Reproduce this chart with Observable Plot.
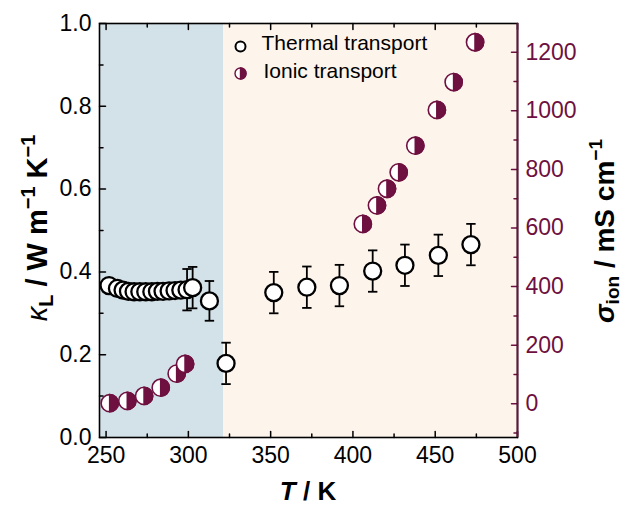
<!DOCTYPE html>
<html><head><meta charset="utf-8">
<script src="https://cdn.jsdelivr.net/npm/d3@7"></script>
<script src="https://cdn.jsdelivr.net/npm/@observablehq/plot@0.6"></script>
<style>
body{margin:0;background:#fff}
#chart{width:627px;height:508px}
svg{font-family:"Liberation Sans",Arial,sans-serif}
</style>
</head><body><div id="chart"></div>
<script>
// ---- data ----
const thermalT   = [251.8, 256.9, 260.3, 263.6, 267.0, 270.5, 274.1, 277.8, 281.2, 284.6, 288.3, 291.9, 295.4, 299.2, 302.6, 312.8, 322.9, 351.9, 372.0, 391.8, 412.0, 431.6, 451.9, 471.7];
const thermalK   = [0.367, 0.360, 0.356, 0.353, 0.352, 0.352, 0.352, 0.352, 0.353, 0.353, 0.354, 0.355, 0.356, 0.357, 0.362, 0.330, 0.179, 0.350, 0.363, 0.367, 0.402, 0.416, 0.440, 0.466];
const thermalErr = [0, 0, 0, 0, 0, 0, 0, 0, 0, 0, 0, 0, 0, 0.05, 0.05, 0.048, 0.05, 0.05, 0.05, 0.05, 0.05, 0.05, 0.05, 0.05];
const ionicT     = [252.2, 262.9, 273.1, 283.2, 292.9, 298.0, 406.0, 414.6, 420.7, 427.8, 437.9, 451.0, 461.2, 474.2];
const ionicSigma = [2, 10, 27, 55, 103, 136, 614, 677, 734, 790, 881, 1003, 1098, 1234];
const phaseBoundary = 321.5;
const xDomain = [246, 500];
const yDomain = [0, 1];
const sigmaDomain = [-115, 1298];
const xTicks = [250, 300, 350, 400, 450, 500];
const xMinor = [275, 325, 375, 425, 475];
const yTicks = [0, 0.2, 0.4, 0.6, 0.8, 1.0];
const yMinor = [0.1, 0.3, 0.5, 0.7, 0.9];
const sigmaTicks = [0, 200, 400, 600, 800, 1000, 1200];
const sigmaMinor = [-100, 100, 300, 500, 700, 900, 1100];
const legendLabels = ["Thermal transport", "Ionic transport"];

// ---- style ----
const maroon = "#6e1040";
const blueBg = "#d3e1e8";
const peachBg = "#fdf4ec";

const toLeft = v => (v - sigmaDomain[0]) / (sigmaDomain[1] - sigmaDomain[0]);
const fromLeft = u => sigmaDomain[0] + u * (sigmaDomain[1] - sigmaDomain[0]);

const thermal = thermalT.map((T, i) => ({T, k: thermalK[i], err: thermalErr[i]}));
const thermalErrData = thermal.filter(d => d.err > 0);
const ionic = ionicT.map((T, i) => ({T, s: toLeft(ionicSigma[i])}));
const regions = [
  {x1: xDomain[0], x2: phaseBoundary, fill: blueBg},
  {x1: phaseBoundary, x2: xDomain[1], fill: peachBg}
];

const halfRight = {draw(ctx, size) { const r = Math.sqrt(size / Math.PI); ctx.moveTo(0, -r); ctx.arc(0, 0, r, -Math.PI / 2, Math.PI / 2); ctx.closePath(); }};
const cap = {draw(ctx, size) { const w = Math.sqrt(size / Math.PI); ctx.moveTo(-w, 0); ctx.lineTo(w, 0); }};
const tickShape = {draw(ctx, l) { ctx.moveTo(0, 0); ctx.lineTo(0, -l); }};

function ticks(data, chan, anchor, rotate, length, stroke) {
  const o = {frameAnchor: anchor, rotate, length, anchor: "start", shape: tickShape, stroke, strokeWidth: 1.5};
  o[chan] = d => d;
  return Plot.vector(data, o);
}

const ionicMarks = ionic.flatMap(d => [
  Plot.dot([d], {x: "T", y: "s", r: 8.6, fill: "white", stroke: maroon, strokeWidth: 1.6}),
  Plot.dot([d], {x: "T", y: "s", r: 8.6, symbol: halfRight, fill: maroon, stroke: maroon, strokeWidth: 1.6})
]);

const plot = Plot.plot({
  width: 627, height: 508,
  marginLeft: 99, marginRight: 110, marginTop: 23, marginBottom: 71,
  x: {domain: xDomain},
  y: {domain: yDomain},
  style: {fontFamily: '"Liberation Sans", Arial, sans-serif', background: "white", color: "black"},
  marks: [
    Plot.rect(regions, {x1: "x1", x2: "x2", y1: yDomain[0], y2: yDomain[1], fill: "fill"}),
    Plot.axisX({anchor: "bottom", ticks: xTicks, tickSize: 0, tickPadding: 9, fontSize: 23, label: null, tickFormat: d => d}),
    Plot.axisY({anchor: "left", ticks: yTicks, tickSize: 0, tickPadding: 8, fontSize: 23, label: null, tickFormat: d3.format(".1f")}),
    Plot.axisY({anchor: "right", ticks: sigmaTicks.map(toLeft), tickSize: 0, tickPadding: 8, fontSize: 23, label: null, fill: maroon, tickFormat: d => String(Math.round(fromLeft(d)))}),
    ticks(xTicks, "x", "bottom", 0, 6, "black"),
    ticks(xMinor, "x", "bottom", 0, 3.5, "black"),
    ticks(xTicks, "x", "top", 180, 6, "black"),
    ticks(xMinor, "x", "top", 180, 3.5, "black"),
    ticks(yTicks, "y", "left", 90, 6, "black"),
    ticks(yMinor, "y", "left", 90, 3.5, "black"),
    ticks(sigmaTicks.map(toLeft), "y", "right", -90, 6, maroon),
    ticks(sigmaMinor.map(toLeft), "y", "right", -90, 3.5, maroon),
    Plot.frame({stroke: "black", strokeWidth: 1.6}),
    Plot.ruleX([xDomain[1]], {stroke: maroon, strokeWidth: 1.8}),
    ...ionicMarks,
    Plot.ruleX(thermalErrData, {x: "T", y1: d => d.k - d.err, y2: d => d.k + d.err, stroke: "black", strokeWidth: 1.8}),
    Plot.dot(thermalErrData, {x: "T", y: d => d.k - d.err, r: 4.7, symbol: cap, fill: "none", stroke: "black", strokeWidth: 1.8}),
    Plot.dot(thermalErrData, {x: "T", y: d => d.k + d.err, r: 4.7, symbol: cap, fill: "none", stroke: "black", strokeWidth: 1.8}),
    Plot.dot(thermal, {x: "T", y: "k", r: 8.5, fill: "white", stroke: "black", strokeWidth: 2.3}),
    // legend
    Plot.dot([0], {frameAnchor: "top-left", dx: 141, dy: 23, r: 5, fill: "white", stroke: "black", strokeWidth: 2}),
    Plot.dot([0], {frameAnchor: "top-left", dx: 141, dy: 50, r: 5.5, fill: "white", stroke: maroon, strokeWidth: 1.4}),
    Plot.dot([0], {frameAnchor: "top-left", dx: 141, dy: 50, r: 5.5, symbol: halfRight, fill: maroon, stroke: maroon, strokeWidth: 1.4}),
    Plot.text([legendLabels[0]], {frameAnchor: "top-left", dx: 162, dy: 20, text: d => d, textAnchor: "start", lineAnchor: "middle", fontSize: 21, fill: "black"}),
    Plot.text([legendLabels[1]], {frameAnchor: "top-left", dx: 164, dy: 48, text: d => d, textAnchor: "start", lineAnchor: "middle", fontSize: 21, fill: "black"})
  ]
});
document.getElementById("chart").appendChild(plot);

// ---- axis titles ----
const svg = d3.select(plot);
const lt = svg.append("text").attr("transform", "translate(47,228) rotate(-90)")
  .attr("text-anchor", "middle").attr("font-size", 29).attr("font-weight", "bold").attr("fill", "black");
lt.append("tspan").attr("font-style", "italic").attr("font-weight", "normal").text("κ");
lt.append("tspan").attr("font-size", 20).attr("dy", 6).text("L");
lt.append("tspan").attr("dy", -6).text(" / W m");
lt.append("tspan").attr("font-size", 20).attr("dy", -12).text("−1");
lt.append("tspan").attr("dy", 12).text(" K");
lt.append("tspan").attr("font-size", 20).attr("dy", -12).text("−1");

const rt = svg.append("text").attr("transform", "translate(614,231) rotate(-90)")
  .attr("text-anchor", "middle").attr("font-size", 28).attr("font-weight", "bold").attr("fill", "black");
rt.append("tspan").attr("font-style", "italic").text("σ");
rt.append("tspan").attr("font-size", 19).attr("dy", 5).text("ion");
rt.append("tspan").attr("dy", -5).text(" / mS cm");
rt.append("tspan").attr("font-size", 19).attr("dy", -12).text("−1");

const bt = svg.append("text").attr("x", 308).attr("y", 500)
  .attr("text-anchor", "middle").attr("font-size", 26).attr("font-weight", "bold").attr("fill", "black");
bt.append("tspan").attr("font-style", "italic").text("T");
bt.append("tspan").text(" / K");
</script>
</body></html>
